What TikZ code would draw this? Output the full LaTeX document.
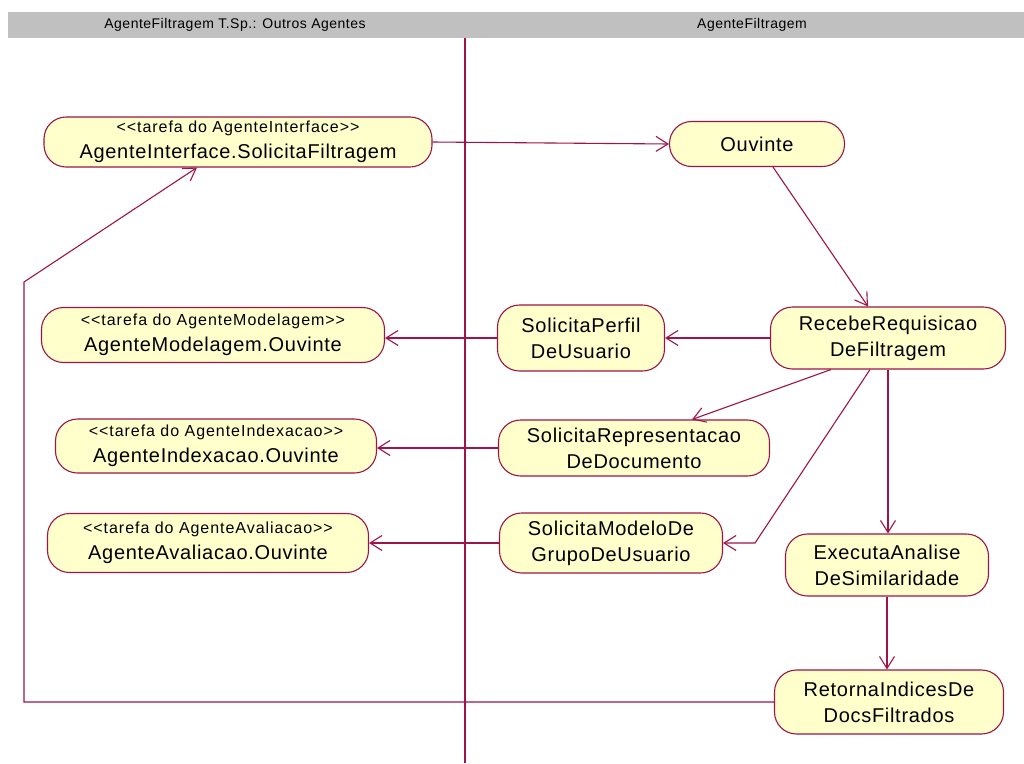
\documentclass[tikz,border=0pt]{standalone}
\usepackage{fontspec}
\setmainfont{Liberation Sans}[LetterSpace=3.5]
\newfontfamily\stereofont{Liberation Sans}[LetterSpace=6]
\usetikzlibrary{arrows.meta}

\definecolor{umlline}{RGB}{158,20,72}
\definecolor{umlfill}{RGB}{255,255,204}
\definecolor{lanegray}{RGB}{192,192,192}

\newcommand{\tarefa}[1]{{\stereofont\fontsize{16}{18}\selectfont <{}<tarefa do #1>{}>}}

\begin{document}
\begin{tikzpicture}[
x=1pt, y=-1pt,
activity/.style={rectangle, rounded corners=22pt, draw=umlline, fill=umlfill, line width=1.1pt, align=center, inner sep=2pt, font=\fontsize{20}{26}\selectfont},
lane/.style={font=\fontsize{14}{16}\selectfont, inner sep=0pt},
flow/.style={-{Straight Barb[length=12pt,width=15pt]}, draw=umlline, line width=1.1pt},
link/.style={draw=umlline, line width=1.1pt}]

\fill[white] (0,0) rectangle (1024,763);
\useasboundingbox (0,0) rectangle (1024,763);

% swimlanes
\fill[lanegray] (8,12) rectangle (1024,38);
\node[lane] (lane1) at (235,25) {AgenteFiltragem T.Sp.: Outros Agentes};
\node[lane] (lane2) at (752,25) {AgenteFiltragem};
\draw[link] (465,38) -- (465,763);

% activities
\node[activity, minimum width=388pt, minimum height=50pt] (ai) at (238,142) {\tarefa{AgenteInterface}\\AgenteInterface.SolicitaFiltragem};
\node[activity, minimum width=175pt, minimum height=45pt] (ouv) at (757,144) {Ouvinte};

\node[activity, minimum width=343pt, minimum height=55pt] (am) at (213,335) {\tarefa{AgenteModelagem}\\AgenteModelagem.Ouvinte};
\node[activity, minimum width=167pt, minimum height=66pt] (sp) at (581,338) {SolicitaPerfil\\DeUsuario};
\node[activity, minimum width=235pt, minimum height=62pt] (rr) at (888,338) {RecebeRequisicao\\DeFiltragem};

\node[activity, minimum width=321pt, minimum height=54pt] (aix) at (216,446) {\tarefa{AgenteIndexacao}\\AgenteIndexacao.Ouvinte};
\node[activity, minimum width=271pt, minimum height=56pt] (sr) at (634,448) {SolicitaRepresentacao\\DeDocumento};

\node[activity, minimum width=321pt, minimum height=59pt] (aa) at (208,543) {\tarefa{AgenteAvaliacao}\\AgenteAvaliacao.Ouvinte};
\node[activity, minimum width=223pt, minimum height=60pt] (sm) at (611,543) {SolicitaModeloDe\\GrupoDeUsuario};
\node[activity, minimum width=203pt, minimum height=62pt] (ea) at (887,565) {ExecutaAnalise\\DeSimilaridade};

\node[activity, minimum width=229pt, minimum height=64pt] (ri) at (889,702) {RetornaIndicesDe\\DocsFiltrados};

\coordinate (smbend) at (755,543);
\coordinate (retcorner) at (24,702);
\coordinate (retbend) at (24,282);

% flows
\draw[flow] (ai.east) -- (ouv.west);
\draw[flow] ([xshift=16pt]ouv.south) -- ([xshift=-20pt]rr.north);
\draw[flow] (rr.west) -- (sp.east);
\draw[flow] (sp.west) -- (sp.west -| am.east);
\draw[flow] ([xshift=-57pt]rr.south) -- ([xshift=58pt]sr.north);
\draw[flow] ([xshift=-18pt]rr.south) -- (smbend) -- (sm.east);
\draw[flow] (rr.south) -- (rr.south |- ea.north);
\draw[flow] (ea.south) -- (ea.south |- ri.north);
\draw[flow] (sr.west) -- (sr.west -| aix.east);
\draw[flow] (sm.west) -- (sm.west -| aa.east);
\draw[flow] (ri.west) -- (retcorner) -- (retbend) -- ([xshift=-41pt]ai.south);
\end{tikzpicture}
\end{document}
